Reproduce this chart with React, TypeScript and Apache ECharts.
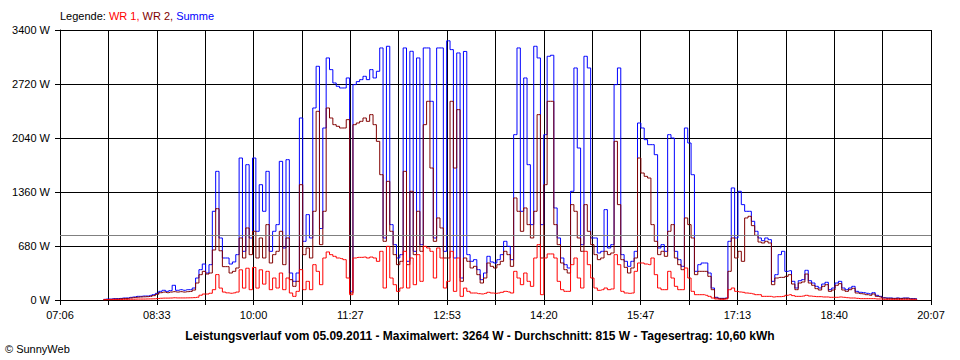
import React, { useEffect, useRef } from 'react';
import * as echarts from 'echarts';

// x axis: minutes after chart start (07:06), 18 grid intervals, labels on every second one
const xTickLabels = ['07:06', '08:33', '10:00', '11:27', '12:53', '14:20', '15:47', '17:13', '18:40', '20:07'];
const axisSpanMin = 780.48;
const firstSampleMin = 39; // 07:45
const sampleStepMin = 3;

// Summe (blue)
const summe = [
  8, 12, 12, 17, 17, 20, 25, 25, 33, 38, 46, 46, 50, 50, 58, 67,
  84, 109, 122, 109, 118, 185, 122, 130, 122, 130, 130, 151, 277, 382, 453, 340, 445,
  1117, 1620, 781, 529, 529, 453, 479, 571, 1788, 613, 1704, 781, 1788, 865, 1452, 1117,
  1620, 613, 865, 949, 1746, 655, 1767, 340, 235, 340,
  2292, 739, 1075, 781, 2418, 2943, 900, 2166, 3048, 2901, 2733, 2691, 2670, 2670,
  2796, 109, 2712, 2750, 2775, 2817, 2775, 2901, 2796, 2880,
  3174, 781, 3195, 949, 697, 529, 571, 3174, 487, 3132, 613, 3048, 697, 3174, 3174,
  2502, 781, 3174, 3174, 613, 3264, 3153, 529, 3111, 277, 3130, 571, 487, 508, 382,
  256, 340, 550, 479, 466, 508, 571, 739, 676, 508,
  2082, 3174, 1117, 2796, 1704, 949, 3195, 3048, 949,
  2082, 3069, 3082, 1159, 781, 529, 445, 403, 1369, 2922, 1914, 697, 3069, 2922, 781,
  781, 592, 613, 1138, 655, 697, 2712, 2922, 571, 487, 424, 487, 613,
  2229, 2166, 2019, 1956, 1956, 1830, 655, 697, 613, 2082, 2040, 613, 508, 424, 2166, 1977, 1578,
  361, 445, 466, 466, 340, 151, 34, 21, 21, 25, 739, 1411, 781, 1369, 1201, 1117, 1117, 991, 865, 781,
  747, 781, 760, 235, 319, 571, 613, 361, 369, 235, 151, 243, 256, 374, 243, 214, 172, 151, 201, 223,
  130, 151, 214, 235, 151, 130, 151, 172, 109, 97, 92, 84, 76, 92, 59, 46, 29, 25, 25, 21,
  25, 21, 25, 25, 17, 17, 13,
];

// WR 2 (dark red)
const wr2 = [
  4, 6, 8, 12, 12, 15, 18, 20, 25, 30, 35, 38, 40, 42, 46, 55,
  72, 92, 100, 92, 100, 105, 100, 105, 100, 105, 108, 125, 214, 319, 361, 327, 340,
  630, 1150, 620, 420, 420, 340, 361, 403, 781, 529, 907, 571, 865, 529, 781, 529,
  949, 466, 571, 613, 865, 445, 781, 256, 172, 235,
  1452, 571, 655, 529, 1117, 2376, 697, 1117, 2418, 2292, 2208, 2187, 2166, 2166,
  2271, 88, 2208, 2229, 2250, 2292, 2250, 2334, 2208, 1998,
  1578, 739, 1494, 865, 571, 445, 487, 1620, 445, 1369, 571, 1117, 613, 2208, 2502,
  1662, 739, 1033, 907, 529, 529, 2502, 1662, 2397, 235, 529, 487, 403, 424, 319,
  214, 277, 466, 424, 403, 445, 487, 613, 571, 424,
  1285, 1117, 865, 1159, 949, 781, 1117, 2334, 529,
  1452, 2502, 2502, 949, 697, 466, 382, 340, 1201, 1117, 781, 613, 1201, 865, 697,
  571, 508, 529, 613, 571, 592, 1998, 1201, 508, 411, 340, 403, 529,
  1788, 1599, 1557, 1536, 949, 739, 571, 613, 550, 865, 949, 529, 445, 382, 1033, 949, 781,
  319, 361, 361, 361, 298, 130, 25, 17, 17, 21, 361, 781, 529, 613, 487, 1033, 1054, 936, 814, 730,
  718, 739, 718, 193, 277, 285, 285, 298, 319, 201, 130, 214, 227, 327, 214, 185, 143, 126, 172, 193,
  109, 126, 185, 206, 126, 109, 130, 147, 88, 80, 76, 67, 59, 76, 46, 38, 25, 21, 21, 17,
  21, 17, 21, 21, 13, 13, 8,
];

// WR 1 (red)
const wr1 = [
  3, 5, 5, 6, 6, 6, 8, 8, 10, 10, 12, 12, 12, 13, 14, 15,
  18, 22, 24, 24, 25, 28, 26, 26, 26, 27, 28, 30, 35, 60, 75, 75, 85,
  130, 320, 150, 100, 90, 85, 90, 100, 380, 150, 400, 130, 410, 150, 380, 200,
  361, 130, 277, 151, 340, 130, 277, 88, 46, 109,
  382, 130, 235, 130, 445, 361, 193, 529, 605, 571, 550, 529, 521, 508,
  277, 67, 529, 537, 537, 541, 529, 541, 529, 487,
  613, 151, 676, 277, 193, 109, 151, 613, 151, 529, 193, 571, 235, 676, 655,
  613, 277, 655, 529, 151, 235, 613, 109, 529, 46, 150, 109, 88, 88, 80,
  76, 84, 97, 88, 84, 88, 97, 109, 101, 88,
  361, 277, 193, 340, 235, 172, 529, 697, 67,
  529, 580, 580, 529, 235, 130, 109, 109, 445, 529, 277, 151, 613, 445, 277,
  151, 122, 130, 151, 130, 139, 571, 445, 109, 88, 84, 88, 361,
  466, 466, 453, 445, 529, 319, 151, 130, 130, 361, 277, 172, 130, 130, 403, 277, 109,
  67, 67, 67, 59, 46, 25, 13, 8, 8, 13, 130, 151, 109, 101, 97, 88, 84, 76, 67, 67,
  46, 46, 46, 38, 42, 42, 46, 59, 67, 55, 46, 46, 50, 59, 50, 46, 42, 42, 38, 38,
  34, 34, 34, 38, 34, 29, 25, 25, 21, 17, 17, 17, 17, 17, 13, 13, 8, 8, 8, 8,
  8, 4, 4, 4, 4, 4, 4,
];

const dateText = '05.09.2011';
const maxValue = 3264;
const avgValue = 815;
const dailyYield = '10,60';

const toPairs = (arr: number[]) => arr.map((v, i) => [firstSampleMin + i * sampleStepMin, v]);

export default function App() {
  const ref = useRef<HTMLDivElement | null>(null);

  useEffect(() => {
    if (!ref.current) return;
    const chart = echarts.init(ref.current, null, { renderer: 'svg' });
    const font = '"Liberation Sans", Arial, sans-serif';
    const labelStep = axisSpanMin / 9;
    const legendPart = (color: string) => ({ color, fontSize: 11, fontFamily: font, fontWeight: 'normal' });

    const lineSeries = (name: string, values: number[], color: string, extra: object = {}) => ({
      name,
      type: 'line',
      data: toPairs(values),
      step: 'middle',
      symbol: 'none',
      showSymbol: false,
      lineStyle: { color, width: 1 },
      itemStyle: { color },
      ...extra,
    });

    chart.setOption({
      animation: false,
      backgroundColor: '#ffffff',
      textStyle: { fontFamily: font },
      title: [
        {
          text: '{k|Legende: }{a|WR 1, }{b|WR 2, }{c|Summe}',
          left: 60,
          top: 10,
          padding: 0,
          textStyle: {
            fontWeight: 'normal',
            fontSize: 11,
            rich: {
              k: legendPart('#000000'),
              a: legendPart('#ff0000'),
              b: legendPart('#800000'),
              c: legendPart('#0000ff'),
            },
          },
        },
        {
          text: `Leistungsverlauf vom ${dateText} - Maximalwert: ${maxValue} W - Durchschnitt: ${avgValue} W - Tagesertrag: ${dailyYield} kWh`,
          left: 'center',
          top: 330,
          padding: 0,
          textStyle: { fontSize: 12, fontWeight: 'bold', color: '#000000', fontFamily: font },
        },
        {
          text: '\u00a9 SunnyWeb',
          left: 5,
          top: 343,
          padding: 0,
          textStyle: { fontSize: 11, fontWeight: 'normal', color: '#000000', fontFamily: font },
        },
      ],
      grid: { left: 60, top: 30, width: 871, height: 270, containLabel: false },
      xAxis: {
        type: 'value',
        min: 0,
        max: axisSpanMin,
        interval: axisSpanMin / 18,
        z: 3,
        axisLine: { show: true, lineStyle: { color: '#000000', width: 1 } },
        axisTick: { show: true, length: 5, lineStyle: { color: '#000000', width: 1 } },
        axisLabel: {
          color: '#000000',
          fontSize: 11,
          fontFamily: font,
          margin: 9,
          showMinLabel: true,
          showMaxLabel: true,
          formatter: (v: number) => {
            const k = Math.round(v / labelStep);
            return Math.abs(v - k * labelStep) < 1 ? xTickLabels[k] ?? '' : '';
          },
        },
        splitLine: { show: true, lineStyle: { color: '#000000', width: 1 } },
      },
      yAxis: {
        type: 'value',
        min: 0,
        max: 3400,
        interval: 680,
        z: 3,
        axisLine: { show: true, lineStyle: { color: '#000000', width: 1 } },
        axisTick: { show: true, length: 5, lineStyle: { color: '#000000', width: 1 } },
        axisLabel: {
          color: '#000000',
          fontSize: 11,
          fontFamily: font,
          margin: 10,
          formatter: (v: number) => `${v} W`,
        },
        splitLine: { show: true, lineStyle: { color: '#000000', width: 1 } },
      },
      series: [
        lineSeries('Summe', summe, '#0000ff'),
        lineSeries('WR 2', wr2, '#800000'),
        lineSeries('WR 1', wr1, '#ff0000', {
          markLine: {
            silent: true,
            symbol: 'none',
            label: { show: false },
            lineStyle: { color: '#808080', type: 'solid', width: 1 },
            data: [{ yAxis: avgValue }],
          },
        }),
      ],
    });

    return () => chart.dispose();
  }, []);

  return (
    <div
      ref={ref}
      style={{ position: 'fixed', left: 0, top: 0, width: 960, height: 360, background: '#ffffff' }}
    />
  );
}
